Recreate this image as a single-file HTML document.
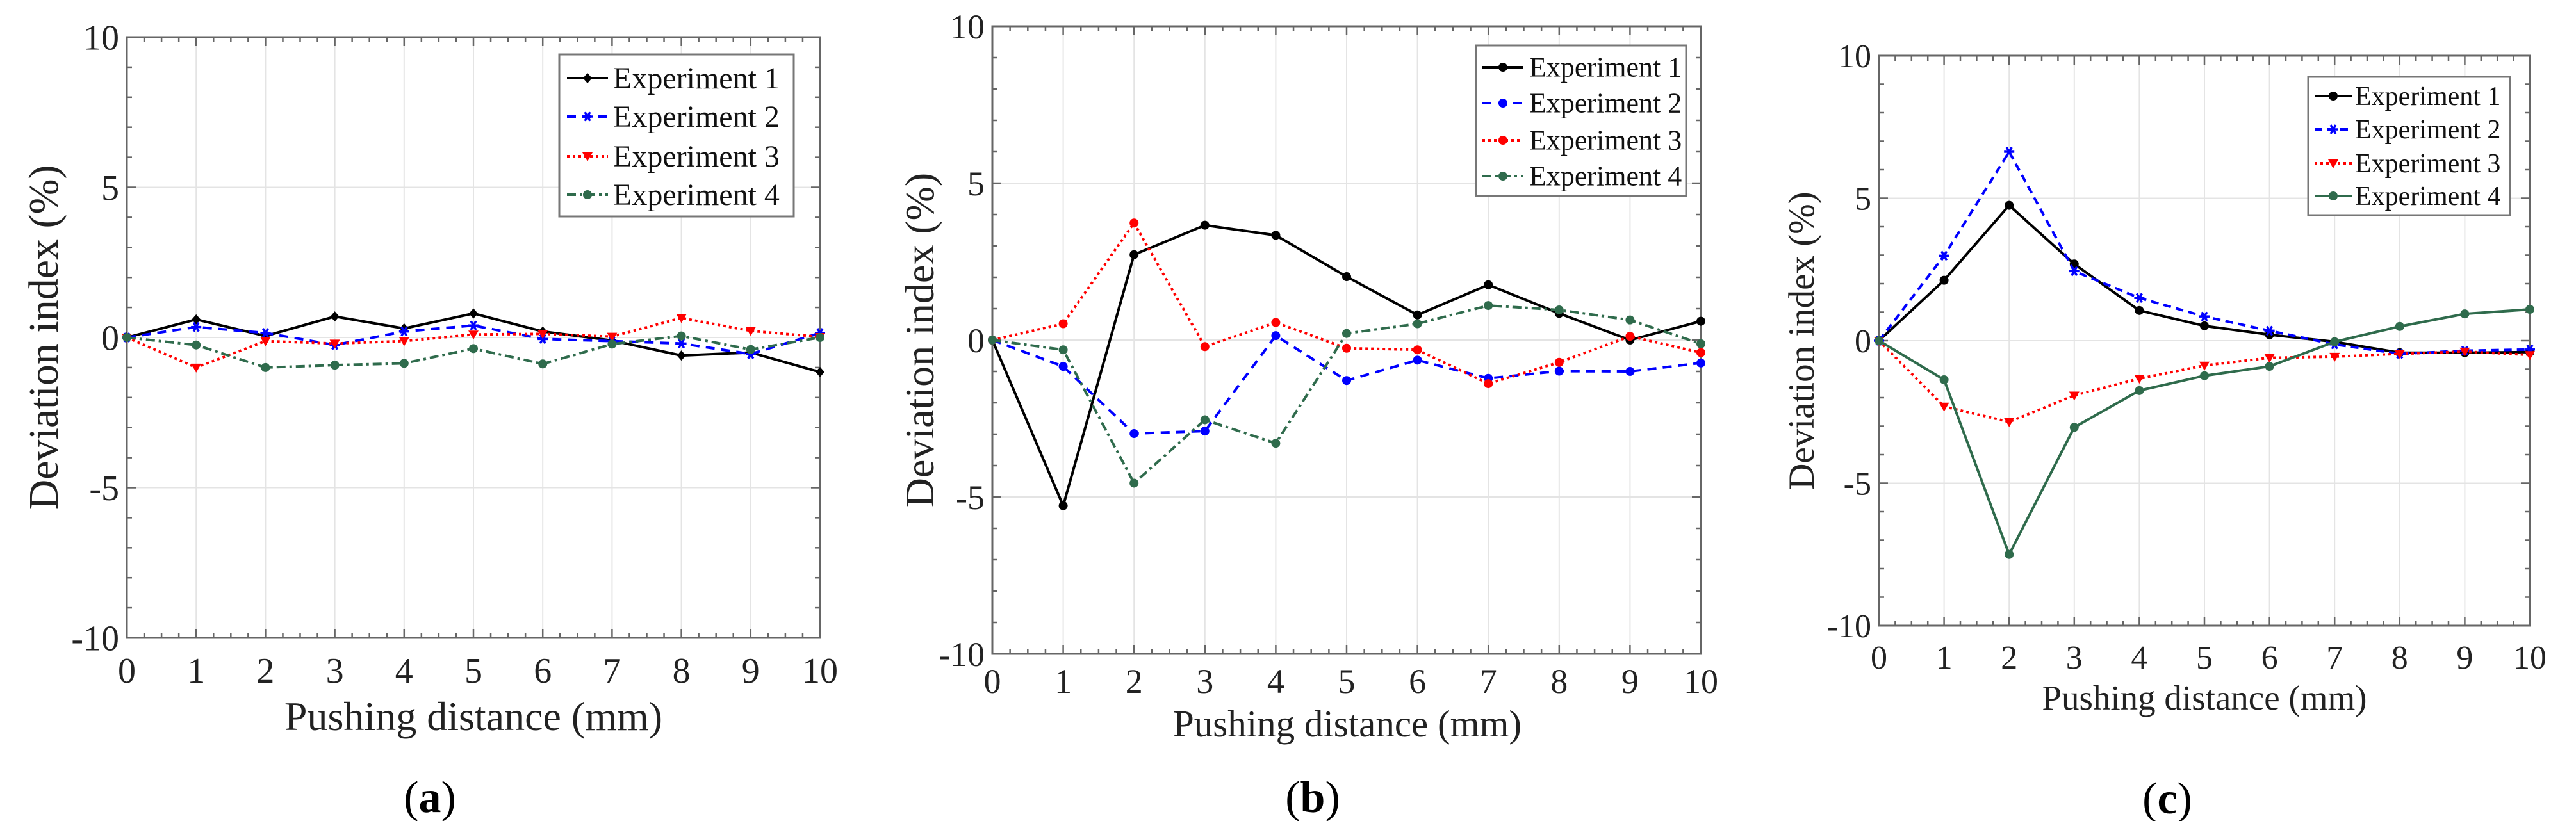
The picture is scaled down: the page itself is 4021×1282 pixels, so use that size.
<!DOCTYPE html>
<html><head><meta charset="utf-8"><style>
html,body{margin:0;padding:0;background:#fff;}
svg{display:block;}
svg text{font-family:"Liberation Serif","DejaVu Serif",serif;}
</style></head><body>
<svg id="fig" width="4021" height="1282" viewBox="0 0 4021 1282" xmlns="http://www.w3.org/2000/svg" font-family="Liberation Serif, serif"></svg>
<script>
const xTicks = [0,1,2,3,4,5,6,7,8,9,10];
const yTicks = [-10,-5,0,5,10];
const seriesNames = ["Experiment 1","Experiment 2","Experiment 3","Experiment 4"];
const a1 = [0,0.6,0.05,0.7,0.3,0.8,0.2,-0.1,-0.6,-0.5,-1.15];
const a2 = [0,0.35,0.15,-0.25,0.2,0.4,-0.05,-0.12,-0.2,-0.55,0.15];
const a3 = [0,-1.0,-0.12,-0.2,-0.12,0.1,0.12,0.03,0.65,0.22,0.02];
const a4 = [0,-0.25,-1.0,-0.92,-0.86,-0.37,-0.88,-0.22,0.05,-0.4,0];
const b1 = [0,-5.28,2.72,3.66,3.34,2.02,0.8,1.76,0.85,0,0.6];
const b2 = [0,-0.84,-2.98,-2.9,0.14,-1.29,-0.64,-1.22,-0.99,-1.0,-0.73];
const b3 = [0,0.52,3.73,-0.21,0.56,-0.26,-0.31,-1.39,-0.71,0.12,-0.4];
const b4 = [0,-0.31,-4.56,-2.54,-3.29,0.21,0.52,1.1,0.96,0.64,-0.12];
const c1 = [0,2.12,4.75,2.69,1.06,0.52,0.21,-0.04,-0.42,-0.42,-0.4];
const c2 = [0,2.98,6.63,2.44,1.5,0.85,0.35,-0.13,-0.46,-0.35,-0.31];
const c3 = [0,-2.31,-2.85,-1.92,-1.33,-0.87,-0.6,-0.56,-0.46,-0.38,-0.5];
const c4 = [0,-1.37,-7.5,-3.04,-1.75,-1.23,-0.9,-0.04,0.5,0.94,1.1];

const NS="http://www.w3.org/2000/svg";
const FF="Liberation Serif, serif";
const svg=document.getElementById('fig');
function mk(tag,attrs,parent){const e=document.createElementNS(NS,tag);for(const k in attrs)e.setAttribute(k,attrs[k]);if(tag==='text')e.setAttribute('font-family',FF);(parent||svg).appendChild(e);return e;}

const GREEN="#2f6b4c";
const panels=[
 {id:'a',L:198,R:1280,T:58,B:996,data:[a1,a2,a3,a4],tick:56,ytitle:66,xtitle:64,tickY:1066,xtY:1140,xtX:739,ytX:68,label:[671,1246],
  leg:{x1:873,y1:85,x2:1239,y2:338,rows:[122,182,244,304],lx1:885,lx2:949,tx:957,fs:48},
  styles:[{c:'#000',d:'',m:'diamond'},{c:'#0000ff',d:'14,10',m:'star'},{c:'#ff0000',d:'4,5',m:'tri'},{c:GREEN,d:'14,6,4,6',m:'circle'}]},
 {id:'b',L:1549,R:2655,T:41,B:1021,data:[b1,b2,b3,b4],tick:54,ytitle:64,xtitle:59,tickY:1082,xtY:1150,xtX:2103,ytX:1436,label:[2049,1246],
  leg:{x1:2304,y1:71,x2:2632,y2:306,rows:[105,161,219,275],lx1:2314,lx2:2378,tx:2387,fs:44},
  styles:[{c:'#000',d:'',m:'circle'},{c:'#0000ff',d:'14,10',m:'circle'},{c:'#ff0000',d:'4,5',m:'circle'},{c:GREEN,d:'14,6,4,6',m:'circle'}]},
 {id:'c',L:2933,R:3949,T:87,B:977,data:[c1,c2,c3,c4],tick:52,ytitle:57,xtitle:55,tickY:1044,xtY:1108,xtX:3441,ytX:2812,label:[3383,1248],
  leg:{x1:3603,y1:120,x2:3918,y2:336,rows:[150,202,255,306],lx1:3613,lx2:3671,tx:3676,fs:42},
  styles:[{c:'#000',d:'',m:'circle'},{c:'#0000ff',d:'12,8',m:'star'},{c:'#ff0000',d:'4,5',m:'tri'},{c:GREEN,d:'',m:'circle'}]}
];

function marker(g,m,x,y,c){
  let e;
  if(m==='diamond'){e=mk('polygon',{points:`${x},${y-8} ${x+7},${y} ${x},${y+8} ${x-7},${y}`,fill:c},g);}
  else if(m==='circle'){e=mk('circle',{cx:x,cy:y,r:7,fill:c},g);}
  else if(m==='tri'){e=mk('polygon',{points:`${x-8},${y-6} ${x+8},${y-6} ${x},${y+8}`,fill:c},g);}
  else {e=mk('g',{},g);for(const a of [0,60,120]){mk('line',{x1:x-8,y1:y,x2:x+8,y2:y,stroke:c,'stroke-width':3.5,transform:`rotate(${a} ${x} ${y})`},e);}}
  
  
}

panels.forEach(p=>{
  const g=mk('g',{});
  
  
  const X=v=>p.L+(v-0)/(10-0)*(p.R-p.L);
  const Y=v=>p.B-(v+10)/20*(p.B-p.T);
  const grid=mk('g',{},g);
  
  
  xTicks.forEach(t=>mk('line',{x1:X(t),y1:p.T,x2:X(t),y2:p.B,stroke:'#e4e4e4','stroke-width':2},grid));
  yTicks.forEach(t=>mk('line',{x1:p.L,y1:Y(t),x2:p.R,y2:Y(t),stroke:'#e4e4e4','stroke-width':2},grid));
  const fr=mk('rect',{x:p.L,y:p.T,width:p.R-p.L,height:p.B-p.T,fill:'none',stroke:'#666','stroke-width':3},g);
  
  
  const tk=mk('g',{stroke:'#666','stroke-width':2.5},g);
  
  
  for(let v=0;v<=10.001;v+=0.25){const maj=Math.abs(v-Math.round(v))<1e-6;const l=maj?14:8;
    mk('line',{x1:X(v),y1:p.B,x2:X(v),y2:p.B-l},tk);mk('line',{x1:X(v),y1:p.T,x2:X(v),y2:p.T+l},tk);}
  for(let v=-10;v<=10.001;v+=1){const maj=Math.abs(v%5)<1e-6;const l=maj?14:8;
    mk('line',{x1:p.L,y1:Y(v),x2:p.L+l,y2:Y(v)},tk);mk('line',{x1:p.R,y1:Y(v),x2:p.R-l,y2:Y(v)},tk);}
  xTicks.forEach(t=>{const e=mk('text',{x:X(t),y:p.tickY,'font-size':p.tick,'text-anchor':'middle',fill:'#222'},g);e.textContent=t;
    });
  yTicks.forEach(t=>{const e=mk('text',{x:p.L-12,y:Y(t)+p.tick*0.35,'font-size':p.tick,'text-anchor':'end',fill:'#222'},g);e.textContent=t;
    });
  const xt=mk('text',{x:p.xtX,y:p.xtY,'font-size':p.xtitle,'text-anchor':'middle',fill:'#222'},g);xt.textContent='Pushing distance (mm)';
  
  const cy=(p.T+p.B)/2;
  const yt=mk('text',{x:p.ytX,y:cy,'font-size':p.ytitle,'text-anchor':'middle',fill:'#222',transform:`rotate(-90 ${p.ytX} ${cy})`,dy:p.ytitle*0.33},g);yt.textContent='Deviation index (%)';
  
  p.data.forEach((arr,i)=>{
    const s=p.styles[i];
    const sg=mk('g',{},g);
    
    
    const pts=arr.map((v,j)=>X(xTicks[j])+','+Y(v)).join(' ');
    const ln=mk('polyline',{points:pts,fill:'none',stroke:s.c,'stroke-width':4,'stroke-dasharray':s.d||'none','stroke-linejoin':'round'},sg);
    
    
    arr.forEach((v,j)=>marker(sg,s.m,X(xTicks[j]),Y(v),s.c));
  });
  const lg=mk('g',{},g);
  
  
  const L=p.leg;
  mk('rect',{x:L.x1,y:L.y1,width:L.x2-L.x1,height:L.y2-L.y1,fill:'#fff',stroke:'#777','stroke-width':3},lg);
  seriesNames.forEach((n,i)=>{
    const s=p.styles[i];const y=L.rows[i];
    const en=mk('g',{},lg);
    
    
    mk('line',{x1:L.lx1,y1:y,x2:L.lx2,y2:y,stroke:s.c,'stroke-width':4,'stroke-dasharray':s.d||'none'},en);
    marker(en,s.m,(L.lx1+L.lx2)/2,y,s.c);
    const t=mk('text',{x:L.tx,y:y+L.fs*0.33,'font-size':L.fs,fill:'#111'},en);t.textContent=n;
  });
  const pl=mk('text',{x:p.label[0],y:p.label[1]+22,'font-size':70,'text-anchor':'middle',fill:'#000'},svg);
  
  
  const t1=mk('tspan',{},pl);t1.textContent='(';
  const t2=mk('tspan',{'font-weight':'bold'},pl);t2.textContent=p.id;
  const t3=mk('tspan',{},pl);t3.textContent=')';
});
</script>
</body></html>
